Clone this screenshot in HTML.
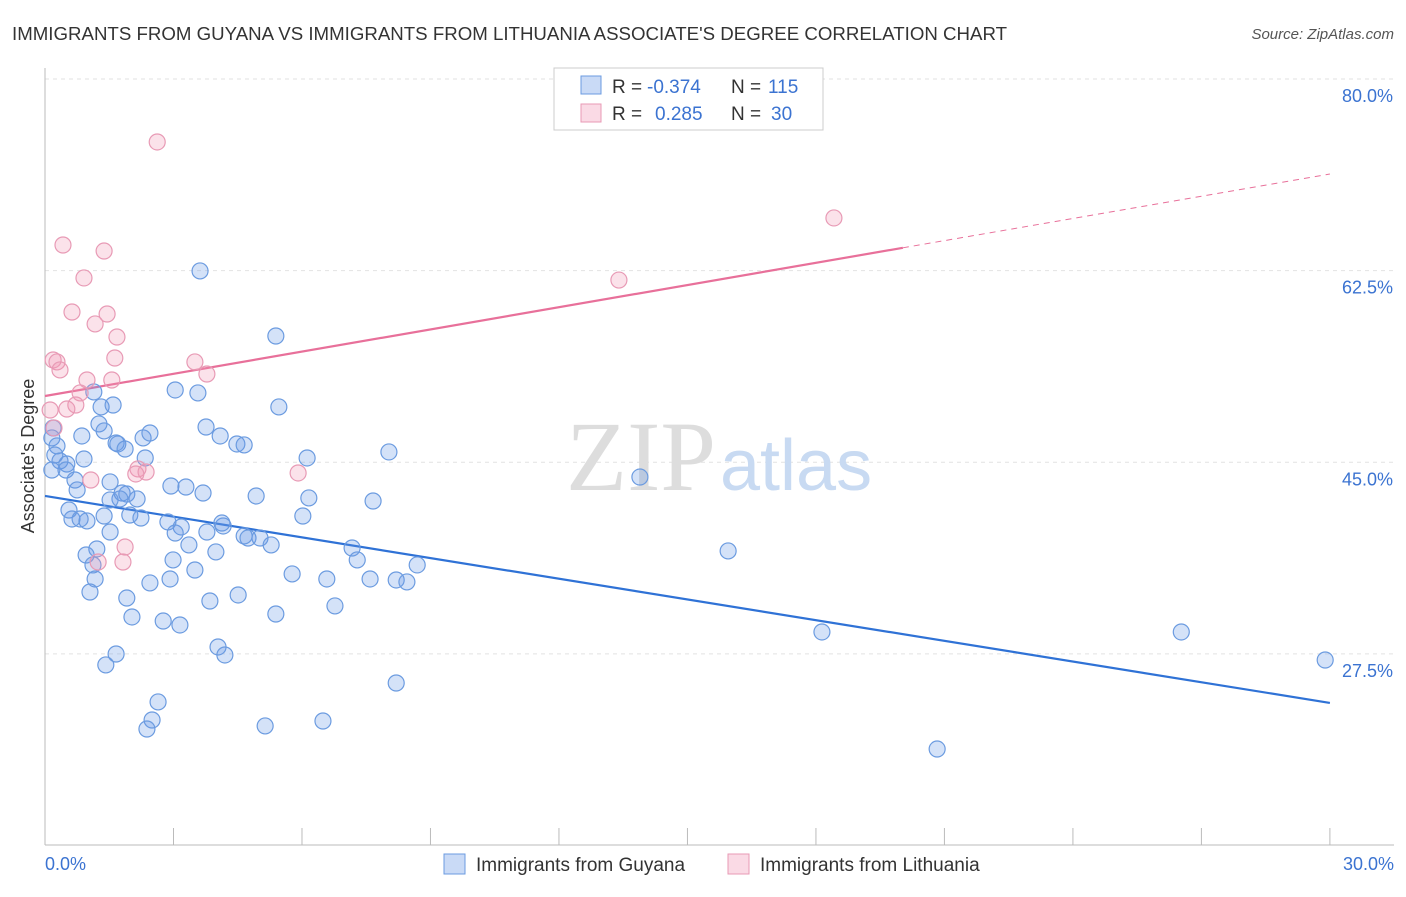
<!DOCTYPE html>
<html><head><meta charset="utf-8">
<style>
body{margin:0;background:#fff;font-family:"Liberation Sans",sans-serif;}
svg text{font-family:"Liberation Sans",sans-serif;}
</style></head>
<body>
<svg id="chart" width="1406" height="892" viewBox="0 0 1406 892" xmlns="http://www.w3.org/2000/svg">
<text x="12" y="40" font-size="18" fill="#333" textLength="995" lengthAdjust="spacingAndGlyphs">IMMIGRANTS FROM GUYANA VS IMMIGRANTS FROM LITHUANIA ASSOCIATE'S DEGREE CORRELATION CHART</text>
<text x="1394" y="39" font-size="15" fill="#555" font-style="italic" text-anchor="end">Source: ZipAtlas.com</text>
<g id="grid"></g>
<text x="716" y="490" font-size="100" fill="#ddd" text-anchor="end" font-family="Liberation Serif" style="font-family:'Liberation Serif',serif">ZIP</text>
<text x="720" y="490" font-size="72" fill="#c8daf2">atlas</text>
<g id="axes"></g>
<g id="lines"></g>
<g id="points"></g>
<text transform="translate(34,456) rotate(-90)" font-size="18" fill="#333" text-anchor="middle">Associate's Degree</text>
<g>
<rect x="554" y="68" width="269" height="62" fill="#fff" stroke="#ccc"/>
<rect x="581" y="76" width="20" height="18" fill="rgba(100,150,230,0.35)" stroke="#6b9be0"/>
<rect x="581" y="104" width="20" height="18" fill="rgba(240,150,180,0.35)" stroke="#e89ab5"/>
<text x="612" y="93" font-size="19" fill="#333">R =</text>
<text x="647" y="93" font-size="19" fill="#3b73d1">-0.374</text>
<text x="731" y="93" font-size="19" fill="#333">N =</text>
<text x="768" y="93" font-size="19" fill="#3b73d1">115</text>
<text x="612" y="120" font-size="19" fill="#333">R =</text>
<text x="655" y="120" font-size="19" fill="#3b73d1">0.285</text>
<text x="731" y="120" font-size="19" fill="#333">N =</text>
<text x="771" y="120" font-size="19" fill="#3b73d1">30</text>
</g>
<g>
<rect x="444" y="854" width="21" height="20" fill="rgba(100,150,230,0.35)" stroke="#6b9be0"/>
<text x="476" y="871" font-size="19" fill="#333">Immigrants from Guyana</text>
<rect x="728" y="854" width="21" height="20" fill="rgba(240,150,180,0.35)" stroke="#e89ab5"/>
<text x="760" y="871" font-size="19" fill="#333">Immigrants from Lithuania</text>
</g>
</svg>
<script>
const yTicks=[80,62.5,45,27.5];
const xTickLabels=["0.0%","30.0%"];
const blueX=[3.62,5.39,3.04,3.57,5.46,1.14,1.31,1.59,0.19,0.16,0.28,0.86,1.26,1.38,1.66,1.70,1.87,2.29,2.45,3.76,4.09,4.48,4.65,8.03,6.12,13.89,0.23,0.35,0.51,0.49,0.70,0.91,2.34,1.52,0.75,1.80,1.91,1.75,2.15,2.94,3.29,3.69,4.93,6.16,7.66,0.56,0.63,0.98,0.82,1.38,1.98,2.24,2.87,3.18,3.04,3.78,4.13,4.16,4.65,4.74,5.02,5.28,6.02,1.52,1.21,0.96,1.12,3.99,3.36,2.99,7.17,7.29,15.95,8.69,1.17,2.45,2.92,3.50,5.77,6.58,7.59,8.20,8.45,1.05,1.91,3.85,4.51,6.77,2.03,2.76,3.15,5.39,18.14,26.53,4.04,4.20,1.66,1.42,29.89,8.20,2.64,2.50,2.38,5.14,6.49,20.83,0.16,1.52];
const blueY=[62.47,56.53,51.60,51.33,50.05,51.42,50.05,50.23,48.13,47.22,46.49,47.40,48.50,47.86,46.76,46.67,46.21,47.22,47.67,48.22,47.40,46.67,46.58,45.94,45.39,43.65,45.66,45.12,44.84,44.29,43.38,45.30,45.39,43.20,42.47,42.19,42.10,41.65,41.65,42.83,42.74,42.19,41.92,41.74,41.46,40.64,39.82,39.64,39.82,40.09,40.18,39.91,39.55,39.09,38.54,38.63,39.45,39.18,38.27,38.08,38.08,37.45,40.09,38.63,37.08,36.53,35.62,36.81,37.45,36.08,37.17,36.08,36.90,35.62,34.34,33.98,34.34,35.16,34.80,34.34,34.34,34.25,34.07,33.15,32.60,32.33,32.88,31.88,30.87,30.50,30.14,31.14,29.50,29.50,28.13,27.40,27.49,26.49,26.94,24.84,23.11,21.46,20.64,20.92,21.37,18.81,44.29,41.56];
const pinkX=[2.62,18.42,0.42,1.38,0.91,13.40,0.63,1.45,1.17,1.68,0.19,0.28,1.63,3.50,0.35,3.78,0.98,1.56,0.82,0.72,0.51,0.12,0.21,2.17,2.36,2.12,5.91,1.07,1.87,1.82,1.24];
const pinkY=[74.25,67.31,64.84,64.29,61.83,61.64,58.72,58.54,57.63,56.44,54.34,54.16,54.52,54.16,53.43,53.06,52.51,52.51,51.33,50.23,49.86,49.77,48.13,44.39,44.11,43.93,44.02,43.38,37.26,35.89,35.89];
const blueTrend=[41.92,23.02];
const pinkTrend=[51.05,71.32];
const pinkSolidEnd=20.03;

const NS="http://www.w3.org/2000/svg";
const sx=v=>45+v*42.83;
const sy=v=>79+(80-v)*10.95;
function mk(tag,attrs,parent){const e=document.createElementNS(NS,tag);for(const k in attrs)e.setAttribute(k,attrs[k]);parent.appendChild(e);return e;}
const grid=document.getElementById('grid'),axes=document.getElementById('axes'),lines=document.getElementById('lines'),pts=document.getElementById('points');
yTicks.forEach(t=>{
 const l=mk('line',{x1:45,x2:1394,y1:sy(t),y2:sy(t),stroke:'#e2e2e2','stroke-dasharray':'4,4'},grid);
 
 
 const tx=mk('text',{x:1393,y:sy(t)+23,'font-size':18,fill:'#3b73d1','text-anchor':'end'},axes);
 tx.textContent=t.toFixed(1)+'%';
 
 
});
mk('line',{x1:45,x2:45,y1:68,y2:845,stroke:'#bbb'},axes);
mk('line',{x1:45,x2:1394,y1:845,y2:845,stroke:'#bbb'},axes);
for(let i=0;i<=10;i++){
 const t=mk('line',{x1:sx(i*3),x2:sx(i*3),y1:828,y2:845,stroke:'#bbb'},axes);
 
 
}
const xl0=mk('text',{x:45,y:870,'font-size':18,fill:'#3b73d1'},axes);xl0.textContent=xTickLabels[0];


const xl1=mk('text',{x:1394,y:870,'font-size':18,fill:'#3b73d1','text-anchor':'end'},axes);xl1.textContent=xTickLabels[1];


const pAt=x=>pinkTrend[0]+(pinkTrend[1]-pinkTrend[0])*x/30;
function dot(x,y,fill,stroke,name){
 const c=mk('circle',{cx:sx(x),cy:sy(y),r:8,fill:fill,stroke:stroke,'stroke-width':1.2},pts);
 
 
}
blueX.forEach((x,i)=>dot(x,blueY[i],'rgba(100,150,230,0.28)','#6b9be0','guyana-point'));
pinkX.forEach((x,i)=>dot(x,pinkY[i],'rgba(240,150,180,0.28)','#e89ab5','lithuania-point'));
const bl=mk('line',{x1:sx(0),y1:sy(blueTrend[0]),x2:sx(30),y2:sy(blueTrend[1]),stroke:'#2f72d6','stroke-width':2.2},lines);


const pl=mk('line',{x1:sx(0),y1:sy(pAt(0)),x2:sx(pinkSolidEnd),y2:sy(pAt(pinkSolidEnd)),stroke:'#e8709a','stroke-width':2.2},lines);


const pd=mk('line',{x1:sx(pinkSolidEnd),y1:sy(pAt(pinkSolidEnd)),x2:sx(30),y2:sy(pAt(30)),stroke:'#e8709a','stroke-width':1,'stroke-dasharray':'6,5'},lines);


</script>
</body></html>
